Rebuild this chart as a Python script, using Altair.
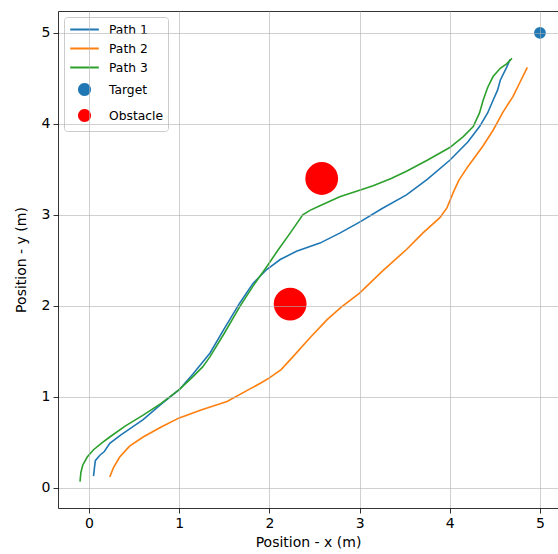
import math
import altair as alt
import pandas as pd

# ---- data ----
p1_x = [0.05, 0.06, 0.07, 0.12, 0.17, 0.23, 0.35, 0.6, 0.8, 1.0, 1.15, 1.34, 1.5, 1.67, 1.82, 1.97, 2.12, 2.3, 2.56, 2.78, 3.0, 3.25, 3.52, 3.75, 4.0, 4.2, 4.33, 4.42, 4.48, 4.53, 4.56, 4.63, 4.67]
p1_y = [0.13, 0.22, 0.30, 0.36, 0.40, 0.49, 0.58, 0.75, 0.92, 1.08, 1.25, 1.48, 1.75, 2.03, 2.25, 2.40, 2.51, 2.60, 2.69, 2.80, 2.92, 3.07, 3.22, 3.39, 3.60, 3.80, 3.97, 4.12, 4.26, 4.37, 4.48, 4.62, 4.71]

p2_x = [0.23, 0.27, 0.34, 0.45, 0.6, 0.8, 1.0, 1.25, 1.53, 1.75, 1.9, 2.0, 2.13, 2.26, 2.45, 2.64, 2.8, 3.0, 3.25, 3.52, 3.7, 3.89, 3.97, 4.04, 4.1, 4.2, 4.37, 4.48, 4.59, 4.7, 4.78, 4.86]
p2_y = [0.12, 0.22, 0.34, 0.46, 0.56, 0.67, 0.77, 0.86, 0.95, 1.07, 1.15, 1.21, 1.30, 1.44, 1.65, 1.85, 1.99, 2.14, 2.38, 2.62, 2.80, 2.97, 3.08, 3.25, 3.38, 3.53, 3.76, 3.93, 4.13, 4.30, 4.46, 4.62]

p3_x = [-0.10, -0.09, -0.07, -0.02, 0.05, 0.15, 0.23, 0.4, 0.6, 0.8, 1.0, 1.15, 1.26, 1.34, 1.5, 1.67, 1.82, 1.97, 2.1, 2.23, 2.37, 2.45, 2.56, 2.78, 3.0, 3.15, 3.35, 3.52, 3.75, 4.0, 4.15, 4.26, 4.33, 4.37, 4.42, 4.48, 4.56, 4.63, 4.69]
p3_y = [0.07, 0.17, 0.25, 0.34, 0.42, 0.50, 0.56, 0.68, 0.80, 0.93, 1.08, 1.22, 1.33, 1.44, 1.70, 1.99, 2.22, 2.43, 2.62, 2.80, 3.00, 3.05, 3.10, 3.20, 3.27, 3.32, 3.40, 3.48, 3.60, 3.74, 3.86, 3.97, 4.12, 4.26, 4.40, 4.52, 4.61, 4.66, 4.72]

target_x = [5.0]
target_y = [5.0]
obstacle_x = [2.58, 2.23]
obstacle_y = [3.40, 2.02]

series_names = ["Path 1", "Path 2", "Path 3", "Target", "Obstacle"]
series_colors = ["#1f77b4", "#ff7f0e", "#2ca02c", "#1f77b4", "#ff0000"]

# legend glyphs: a line for the paths, a dot (polygon) for the scatter entries
LINE_GLYPH = "M-2.2,0H2.2"
_r = 0.85
DOT_GLYPH = "M" + "L".join(
    f"{_r * math.cos(2 * math.pi * k / 24):.3f},{_r * math.sin(2 * math.pi * k / 24):.3f}" for k in range(24)
) + "Z"
legend_shapes = [LINE_GLYPH, LINE_GLYPH, LINE_GLYPH, DOT_GLYPH, DOT_GLYPH]

# ---- tables ----
rows = []
for name, xs, ys in [("Path 1", p1_x, p1_y), ("Path 2", p2_x, p2_y), ("Path 3", p3_x, p3_y)]:
    for i, (a, b) in enumerate(zip(xs, ys)):
        rows.append({"series": name, "x": a, "y": b, "order": i})
paths = pd.DataFrame(rows)

targets = pd.DataFrame({"series": ["Target"] * len(target_x), "x": target_x, "y": target_y})
obstacles = pd.DataFrame({"series": ["Obstacle"] * len(obstacle_x), "x": obstacle_x, "y": obstacle_y})

xdom = [-0.344, 5.2]
ydom = [-0.22, 5.24]

legend = alt.Legend(
    title=None,
    orient="top-left",
    offset=6,
    fillColor="rgba(255,255,255,0.85)",
    strokeColor="#cccccc",
    cornerRadius=3,
    padding=5,
    rowPadding=5,
    symbolSize=169,
    symbolOffset=8,
    labelOffset=17,
    labelFont="DejaVu Sans",
    labelFontSize=12.3,
    labelColor="#000000",
    symbolStrokeWidth=2,
    symbolOpacity=1,
)

color = alt.Color("series:N", scale=alt.Scale(domain=series_names, range=series_colors), legend=legend)
xscale = alt.Scale(domain=xdom, nice=False, zero=False)
yscale = alt.Scale(domain=ydom, nice=False, zero=False)

lines = alt.Chart(paths).mark_line(strokeWidth=1.6).encode(
    x=alt.X("x:Q", scale=xscale,
            axis=alt.Axis(title="Position - x (m)", values=[0, 1, 2, 3, 4, 5], format="d",
                          grid=True, zindex=1, titlePadding=5)),
    y=alt.Y("y:Q", scale=yscale,
            axis=alt.Axis(title="Position - y (m)", values=[0, 1, 2, 3, 4, 5], format="d",
                          grid=True, zindex=1, titlePadding=13)),
    color=color,
    order="order:Q",
    detail="series:N",
)

obs = alt.Chart(obstacles).mark_circle(opacity=1, size=1075).encode(
    x=alt.X("x:Q", scale=xscale, axis=None),
    y=alt.Y("y:Q", scale=yscale),
    color=color,
)

tgt = alt.Chart(targets).mark_circle(opacity=1, size=140).encode(
    x=alt.X("x:Q", scale=xscale,
            axis=alt.Axis(orient="top", labels=False, ticks=False, grid=False, title=None, domain=True)),
    y=alt.Y("y:Q", scale=yscale),
    color=color,
)

legend_layer = alt.Chart(targets).transform_filter("false").mark_point(filled=True, opacity=1).encode(
    x=alt.X("x:Q", scale=xscale, axis=None),
    y=alt.Y("y:Q", scale=yscale),
    color=color,
    shape=alt.Shape("series:N", scale=alt.Scale(domain=series_names, range=legend_shapes), legend=legend),
)

chart = alt.layer(lines, obs, tgt, legend_layer).resolve_axis(x="independent").properties(
    width=500, height=497,
    autosize=alt.AutoSizeParams(type="none"),
    padding={"left": 58, "top": 11, "right": 0, "bottom": 46},
).configure_view(stroke=None).configure_axis(
    labelFont="DejaVu Sans", titleFont="DejaVu Sans",
    labelFontSize=14, titleFontSize=14, titleFontWeight="normal",
    labelColor="#000000", titleColor="#000000",
    tickColor="#000000", domainColor="#000000", tickSize=5, tickWidth=0.8, domainWidth=0.8,
    labelPadding=3, gridColor="#b0b0b0", gridWidth=0.8, gridOpacity=0.75,
)

chart.save("out.html", embed_options={"renderer": "svg", "actions": False})
